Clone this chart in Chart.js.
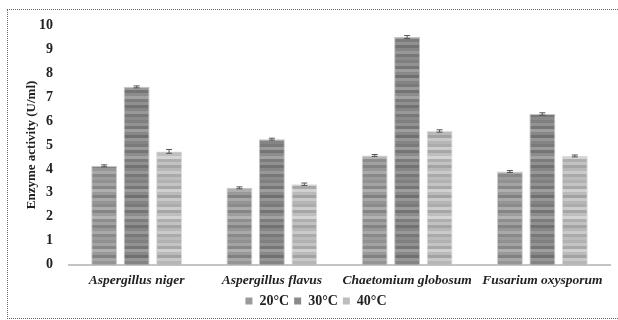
<!DOCTYPE html>
<html>
<head>
<meta charset="utf-8">
<script src="https://cdn.jsdelivr.net/npm/chart.js@4"></script>
<style>
  html, body { margin: 0; padding: 0; background: #fff; }
  #wrap { position: relative; width: 618px; height: 320px; }
  #frame { position: absolute; left: 7px; top: 9px; width: 612px; height: 308px; border: 1px dotted #666; border-right: none; }
  canvas { position: absolute; left: 0; top: 0; }
</style>
</head>
<body>
<div id="wrap">
  <div id="frame"></div>
  <canvas id="chart" width="618" height="320"></canvas>
</div>
<script>
const fungi = ['Aspergillus niger', 'Aspergillus flavus', 'Chaetomium globosum', 'Fusarium oxysporum'];
const temps = ['20°C', '30°C', '40°C'];
const act20 = [4.13, 3.21, 4.56, 3.89];
const act30 = [7.42, 5.24, 9.50, 6.29];
const act40 = [4.73, 3.36, 5.58, 4.54];
const err20 = [0.04, 0.04, 0.04, 0.04];
const err30 = [0.04, 0.04, 0.06, 0.05];
const err40 = [0.08, 0.05, 0.05, 0.04];

// striped grey texture like the scanned bars
function stripes(base) {
  const shades = [0, 18, -10, 30, 8, -16, 22, 4, -6, 26, -12, 12, 34, -4, 16, -14, 6, 24, -8, 10];
  const c = document.createElement('canvas');
  c.width = 4; c.height = shades.length * 3;
  const g = c.getContext('2d');
  shades.forEach((s, i) => {
    const v = Math.max(0, Math.min(255, base + s));
    g.fillStyle = `rgb(${v},${v},${v})`;
    g.fillRect(0, i * 3, 4, 3);
  });
  return g.createPattern(c, 'repeat');
}

const errorBars = {
  id: 'errorBars',
  afterDatasetsDraw(chart) {
    const ctx = chart.ctx;
    const y = chart.scales.y;
    chart.data.datasets.forEach((ds, di) => {
      const meta = chart.getDatasetMeta(di);
      meta.data.forEach((bar, i) => {
        const top = y.getPixelForValue(ds.data[i] + ds.err[i]);
        const bot = y.getPixelForValue(ds.data[i] - ds.err[i]);
        ctx.save();
        ctx.strokeStyle = '#555';
        ctx.lineWidth = 1;
        ctx.beginPath();
        ctx.moveTo(bar.x, top); ctx.lineTo(bar.x, bot);
        ctx.moveTo(bar.x - 3, top); ctx.lineTo(bar.x + 3, top);
        ctx.moveTo(bar.x - 3, bot); ctx.lineTo(bar.x + 3, bot);
        ctx.stroke();
        ctx.restore();
      });
    });
  }
};

const serif = "'Liberation Serif', 'Times New Roman', serif";

new Chart(document.getElementById('chart'), {
  type: 'bar',
  data: {
    labels: fungi,
    datasets: [
      { label: temps[0], data: act20, err: err20, backgroundColor: stripes(145), borderColor: '#cfcfcf', borderWidth: 1, legendColor: '#9a9a9a' },
      { label: temps[1], data: act30, err: err30, backgroundColor: stripes(128), borderColor: '#c4c4c4', borderWidth: 1, legendColor: '#8a8a8a' },
      { label: temps[2], data: act40, err: err40, backgroundColor: stripes(178), borderColor: '#dcdcdc', borderWidth: 1, legendColor: '#bdbdbd' }
    ]
  },
  options: {
    responsive: false,
    animation: false,
    categoryPercentage: 0.72,
    barPercentage: 0.8,
    layout: { padding: { left: 22, top: 25, right: 8, bottom: 2 } },
    plugins: {
      legend: {
        position: 'bottom',
        labels: {
          boxWidth: 7, boxHeight: 7, padding: 5,
          color: '#222',
          font: { family: serif, size: 14, weight: 'bold' },
          generateLabels(chart) {
            return chart.data.datasets.map((ds, i) => ({
              text: ds.label, fillStyle: ds.legendColor, strokeStyle: ds.legendColor,
              lineWidth: 0, datasetIndex: i, fontColor: '#222'
            }));
          }
        }
      },
      tooltip: { enabled: false }
    },
    scales: {
      x: {
        grid: { display: false },
        border: { color: '#c4c4c4', width: 2 },
        ticks: { autoSkip: false, color: '#222', padding: 1, font: { family: serif, size: 13.5, weight: 'bold', style: 'italic', lineHeight: 1.05 }, maxRotation: 0 }
      },
      y: {
        min: 0, max: 10,
        afterFit(scale) { scale.width = 47; },
        grid: { display: false },
        border: { display: false },
        ticks: { stepSize: 1, color: '#222', padding: 8, font: { family: serif, size: 14, weight: 'bold' } },
        title: { display: true, text: 'Enzyme activity (U/ml)', color: '#222', padding: 2, font: { family: serif, size: 13, weight: 'bold' } }
      }
    }
  },
  plugins: [errorBars]
});
</script>
</body>
</html>
